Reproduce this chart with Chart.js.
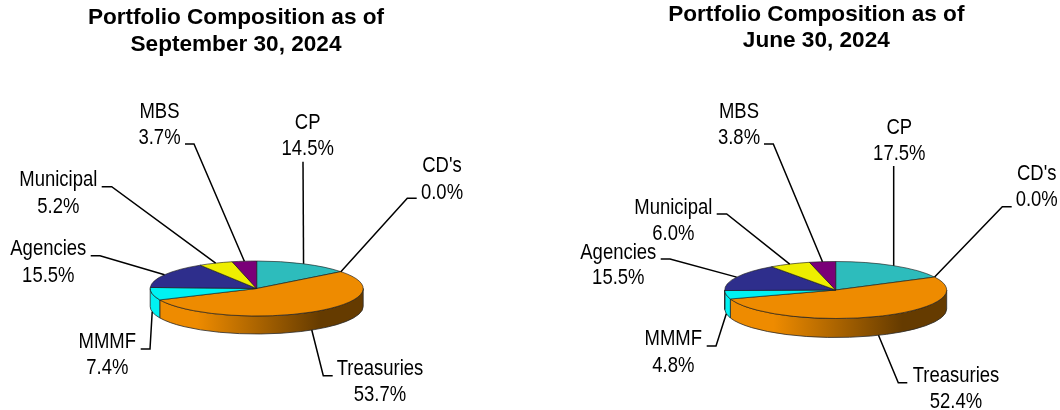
<!DOCTYPE html>
<html>
<head>
<meta charset="utf-8">
<title>Portfolio Composition</title>
<script src="https://cdn.jsdelivr.net/npm/chart.js@4"></script>
<style>
  html, body { margin: 0; padding: 0; background: #fff; overflow: hidden; }
  #wrap { position: relative; width: 1060px; height: 410px; }
  canvas { position: absolute; top: 0; }
</style>
</head>
<body>
<div id="wrap">
  <canvas id="sepChart" width="530" height="410" style="left:0"></canvas>
  <canvas id="junChart" width="530" height="410" style="left:530px"></canvas>
</div>
<script>
const categories = ['CP', "CD's", 'Treasuries', 'MMMF', 'Agencies', 'Municipal', 'MBS'];
const sepValues = [14.5, 0.0, 53.7, 7.4, 15.5, 5.2, 3.7];
const junValues = [17.5, 0.0, 52.4, 4.8, 15.5, 6.0, 3.8];
const sepTitle = ['Portfolio Composition as of', 'September 30, 2024'];
const junTitle = ['Portfolio Composition as of', 'June 30, 2024'];

const sliceColors = ['#2DBCBC', '#E0E0E0', '#EE8B00', '#00F2F2', '#2E2E8C', '#EEEE00', '#7A0078'];
const darkColors = ['#134f4f', '#606060', '#653B00', '#006868', '#14143c', '#666600', '#340033'];

// page positions, same order as categories: label centre x, line 1 y, line 2 y, elbow start x, elbow x, elbow y
const sepSpots = [
  [307.7, 121.7, 148.3, 303, 303, 161.7],
  [442, 165, 191.7, 416.7, 407.3, 198.3],
  [380, 368.3, 394, 332.7, 323.3, 375.7],
  [107.3, 340.7, 366.7, 140.7, 150, 349],
  [48.3, 248.3, 275, 90.7, 100, 255.7],
  [58.3, 179.3, 205.7, 101.7, 111.7, 186.7],
  [159.5, 110.7, 137.3, 185, 194, 144]
];
const junSpots = [
  [899.3, 127.3, 152.7, 893.7, 893.7, 166],
  [1036.7, 173.3, 199, 1011.7, 1002.3, 206.7],
  [956, 375, 401, 907.3, 898.3, 382.7],
  [673.3, 338.3, 365, 706.7, 716, 346],
  [618.3, 251.7, 277.3, 660.7, 670, 259],
  [673.3, 206.7, 232.7, 716.7, 726.7, 214],
  [739, 110.7, 137.3, 764, 773.3, 144]
];

const titleSize = 22.6;
const titleLine = 26.7;

// tilted pie: squash the library's arcs and draw the rim under them
const tiltPlugin = {
  id: 'tilt',
  afterLayout(chart) {
    const o = chart.options.plugins.tilt;
    const t = chart.titleBlock;
    t.left = o.titleX - 220;
    t.right = o.titleX + 220;
    t.top = o.titleTop;
    t.bottom = o.titleTop + titleLine * 2;
  },
  beforeDatasetsDraw(chart) {
    const o = chart.options.plugins.tilt;
    const ctx = chart.ctx;
    const arcs = chart.getDatasetMeta(0).data;
    const cx = arcs[0].x, cy = arcs[0].y, rx = arcs[0].outerRadius, ry = rx * o.squash;
    ctx.save();
    arcs.forEach((arc, i) => {
      const a = Math.max(arc.startAngle, 0), b = Math.min(arc.endAngle, Math.PI);
      if (b <= a) return;
      const g = ctx.createLinearGradient(cx - rx, 0, cx + rx, 0);
      g.addColorStop(0, sliceColors[i]);
      g.addColorStop(0.22, sliceColors[i]);
      g.addColorStop(0.8, darkColors[i]);
      g.addColorStop(1, darkColors[i]);
      ctx.beginPath();
      ctx.ellipse(cx, cy, rx, ry, 0, a, b);
      ctx.ellipse(cx, cy + o.depth, rx, ry, 0, b, a, true);
      ctx.closePath();
      ctx.fillStyle = g;
      ctx.fill();
      ctx.lineWidth = 0.8;
      ctx.strokeStyle = '#2a2a2a';
      ctx.stroke();
    });
    ctx.restore();
    ctx.save();
    ctx.translate(0, cy);
    ctx.scale(1, o.squash);
    ctx.translate(0, -cy);
  },
  afterDatasetsDraw(chart) {
    chart.ctx.restore();
  },
  afterDraw(chart) {
    const o = chart.options.plugins.tilt;
    const ctx = chart.ctx;
    const arcs = chart.getDatasetMeta(0).data;
    const values = chart.data.datasets[0].data;
    ctx.save();
    arcs.forEach((arc, i) => {
      const s = o.spots[i];
      const mid = (arc.startAngle + arc.endAngle) / 2;
      const rx = arc.outerRadius, ry = rx * o.squash;
      let ex = arc.x + rx * Math.cos(mid);
      let ey = arc.y + ry * Math.sin(mid);
      if (Math.sin(mid) > 0) ey += o.depth;

      ctx.beginPath();
      ctx.moveTo(s[3] - o.offsetX, s[5]);
      ctx.lineTo(s[4] - o.offsetX, s[5]);
      ctx.lineTo(ex, ey);
      ctx.lineWidth = 1.5;
      ctx.strokeStyle = '#000';
      ctx.stroke();

      ctx.fillStyle = '#000';
      ctx.textAlign = 'center';
      ctx.textBaseline = 'middle';
      ctx.font = '22px "Liberation Sans", Arial, sans-serif';
      narrowText(ctx, categories[i], s[0] - o.offsetX, s[1] + 1);
      narrowText(ctx, values[i].toFixed(1) + '%', s[0] - o.offsetX, s[2] + 1);
    });
    ctx.restore();
  }
};

function narrowText(ctx, text, x, y) {
  ctx.save();
  ctx.translate(x, y);
  ctx.scale(0.84, 1);
  ctx.fillText(text, 0, 0);
  ctx.restore();
}

function makePie(id, values, title, spots, g) {
  const bw = 1;
  return new Chart(document.getElementById(id), {
    type: 'pie',
    data: {
      labels: categories,
      datasets: [{
        data: values,
        backgroundColor: sliceColors,
        borderColor: '#1a1a1a',
        borderWidth: bw
      }]
    },
    plugins: [tiltPlugin],
    options: {
      responsive: false,
      animation: false,
      events: [],
      layout: {
        padding: {
          left: g.cx - g.rx - bw / 2,
          right: 530 - (g.cx + g.rx + bw / 2),
          top: g.cy - g.rx - bw / 2 - titleLine * 2,
          bottom: 410 - (g.cy + g.rx + bw / 2)
        }
      },
      plugins: {
        legend: { display: false },
        tooltip: { enabled: false },
        title: {
          display: true,
          text: title,
          color: '#000',
          padding: 0,
          font: { family: '"Liberation Sans", Arial, sans-serif', size: titleSize, weight: 'bold', lineHeight: titleLine / titleSize }
        },
        tilt: {
          squash: g.ry / g.rx,
          depth: g.depth,
          spots: spots,
          offsetX: g.offsetX,
          titleX: g.titleX,
          titleTop: g.titleTop
        }
      }
    }
  });
}

makePie('sepChart', sepValues, sepTitle, sepSpots,
  { cx: 256.7, cy: 288.5, rx: 106.5, ry: 27.5, depth: 18, offsetX: 0, titleX: 236, titleTop: 4.3 });
makePie('junChart', junValues, junTitle, junSpots,
  { cx: 305.7, cy: 290, rx: 111, ry: 28.5, depth: 19, offsetX: 530, titleX: 286.3, titleTop: 1 });
</script>
</body>
</html>
